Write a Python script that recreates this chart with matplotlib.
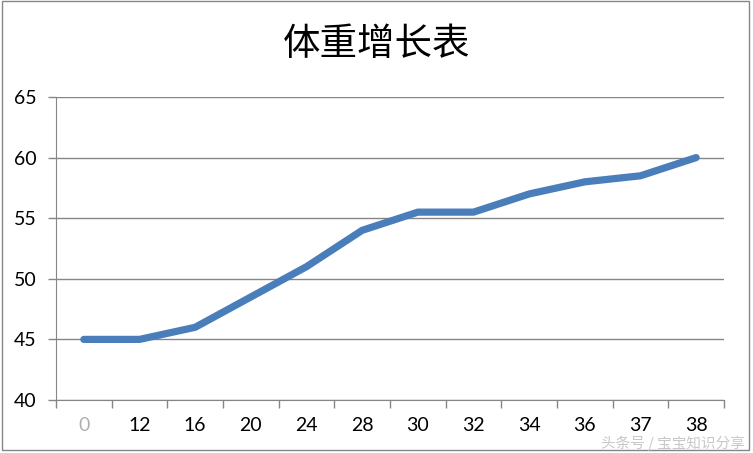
import matplotlib.pyplot as plt
from matplotlib.patches import Rectangle
import numpy as np

plt.rcParams['font.family'] = ['Lato', 'Noto Sans CJK SC', 'DejaVu Sans']

# data
weeks = ['0', '12', '16', '20', '24', '28', '30', '32', '34', '36', '37', '38']
weight = [45, 45, 46, 48.5, 51, 54, 55.5, 55.5, 57, 58, 58.5, 60]
yticks = [40, 45, 50, 55, 60, 65]
title = '体重增长表'

fig = plt.figure(figsize=(7.53, 4.53), dpi=100)
ax = fig.add_axes([56 / 753, 1 - 400 / 453, 668 / 753, 303 / 453])

x = np.arange(len(weeks))
ax.plot(x, weight, color='#4A7EBB', lw=5.2, solid_capstyle='round', solid_joinstyle='round', zorder=3)

ax.set_xlim(-0.5, len(weeks) - 0.5)
ax.set_ylim(40, 65)
ax.set_yticks(yticks)
ax.set_yticklabels([str(v) for v in yticks], fontsize=14)
ax.set_xticks(x)
ax.set_xticklabels(weeks, fontsize=14)
ax.set_xticks(np.arange(-0.5, len(weeks)), minor=True)
ax.tick_params(axis='x', which='major', length=0, pad=12)
ax.tick_params(axis='x', which='minor', length=6, color='#868686', width=1)
ax.tick_params(axis='y', length=6, color='#868686', width=1, pad=8)
ax.grid(axis='y', color='#868686', lw=1)
ax.set_axisbelow(True)
for s in ['top', 'right']:
    ax.spines[s].set_visible(False)
for s in ['left', 'bottom']:
    ax.spines[s].set_color('#868686')

ax.get_xticklabels()[0].set_color('#b0b0b0')

fig.text(0.5, 1 - 45 / 453, title, ha='center', va='center', fontsize=27,
         family=['Noto Sans CJK SC', 'DejaVu Sans'])

# watermark
fig.text(745 / 753, 1 - 443 / 453, '头条号 / 宝宝知识分享', ha='right', va='center',
         fontsize=10.5, color='#c8c8c8', family=['Noto Sans CJK SC', 'DejaVu Sans'])

fig.patches.append(Rectangle((2 / 753, 3 / 453), 747 / 753, 449 / 453, transform=fig.transFigure,
                             fill=False, edgecolor='#868686', lw=1))

fig.savefig('out.png', dpi=100)
